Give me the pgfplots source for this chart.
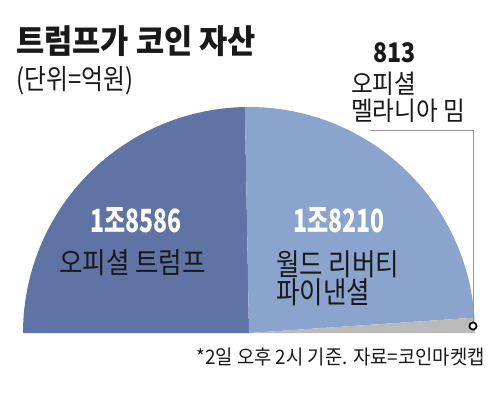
\documentclass[border=0pt]{standalone}
\usepackage{fontspec}
\setmainfont{Noto Sans CJK KR}
\usepackage{pgfplots}
\pgfplotsset{compat=1.18}
\definecolor{cA}{RGB}{95,115,164}
\definecolor{cB}{RGB}{139,164,206}
\definecolor{cC}{RGB}{186,186,186}
\definecolor{lead}{RGB}{150,150,150}
\definecolor{txt}{RGB}{25,25,25}
\newcommand\fnt[2]{\fontsize{#1}{#1}\selectfont\addfontfeatures{FakeStretch=#2}}
% values (unit: 100 million won)
\def\vA{18586}% Official Trump
\def\vB{18210}% World Liberty Financial
\def\vC{813}%   Official Melania Meme
\edef\aC{\fpeval{round(180*\vC/(\vA+\vB+\vC),4)}}
\edef\aBC{\fpeval{round(180*(\vB+\vC)/(\vA+\vB+\vC),4)}}
\begin{document}
\begin{tikzpicture}
\begin{axis}[
  scale only axis, width=500pt, height=399pt,
  xmin=0, xmax=500, ymin=0, ymax=399, y dir=reverse,
  hide axis, clip=false,
]
\path (axis cs:0,0) rectangle (axis cs:500,399);
% half pie: centre (249,333), radius 226
\addplot[fill=cA, draw=none, domain=\aBC:180, samples=120, variable=\t]
  ({249+226*cos(\t)},{333-226*sin(\t)}) -- (axis cs:249,333) -- cycle;
\addplot[fill=cB, draw=none, domain=\aC:\aBC, samples=120, variable=\t]
  ({249+226*cos(\t)},{333-226*sin(\t)}) -- (axis cs:249,333) -- cycle;
\addplot[fill=cC, draw=none, domain=0:\aC, samples=10, variable=\t]
  ({249+226*cos(\t)},{333-226*sin(\t)}) -- (axis cs:249,333) -- cycle;
% leader line and marker
\addplot[lead, line width=0.9pt] coordinates {(473,322) (473,130) (370,130)};
\addplot[only marks, mark=*, mark size=3.6pt,
  mark options={fill=white, draw=black, line width=1.7pt}] coordinates {(473,326)};
% texts
\node[anchor=base west, inner sep=0, text=txt, font=\bfseries\fnt{33}{0.93}]
  at (axis cs:16,53) {트럼프가 코인 자산};
\node[anchor=base west, inner sep=0, text=txt, font=\fnt{28}{0.85}]
  at (axis cs:16,89) {(단위=억원)};
\node[anchor=base west, inner sep=0, text=txt, font=\bfseries\fnt{27}{0.86}]
  at (axis cs:373,62) {813};
\node[anchor=base west, inner sep=0, text=txt, font=\fnt{26}{0.91}, text height=19pt, text depth=1pt]
  at (axis cs:351,93) {오피셜};
\node[anchor=base west, inner sep=0, text=txt, font=\fnt{26}{0.91}, text height=19pt, text depth=1pt]
  at (axis cs:351,120) {멜라니아 밈};
\node[anchor=base west, inner sep=0, text=white, font=\bfseries\fnt{32}{0.72}]
  at (axis cs:90,232) {1조8586};
\node[anchor=base west, inner sep=0, text=txt, font=\fnt{29}{0.88}]
  at (axis cs:59,273) {오피셜 트럼프};
\node[anchor=base west, inner sep=0, text=white, font=\bfseries\fnt{32}{0.72}]
  at (axis cs:293,232) {1조8210};
\node[anchor=base west, inner sep=0, text=txt, font=\fnt{30}{0.85}, text height=23pt, text depth=2pt]
  at (axis cs:276,275) {월드 리버티};
\node[anchor=base west, inner sep=0, text=txt, font=\fnt{30}{0.85}, text height=23pt, text depth=2pt]
  at (axis cs:276,303) {파이낸셜};
\node[anchor=base east, inner sep=0, text=txt, font=\fnt{20}{0.94}]
  at (axis cs:485,364) {*2일 오후 2시 기준. 자료=코인마켓캡};
\end{axis}
\end{tikzpicture}
\end{document}
